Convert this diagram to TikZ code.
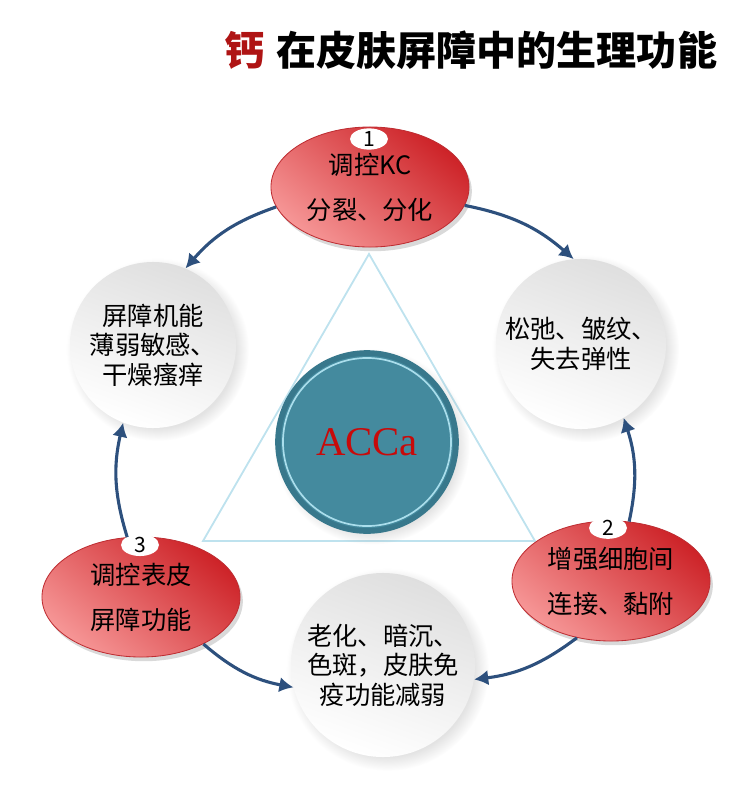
\documentclass[tikz,border=0pt]{standalone}
\usepackage{fontspec}
\setmainfont{Noto Sans CJK SC}
\newfontfamily\accafont{Liberation Serif}
\usetikzlibrary{shapes.geometric, arrows.meta, shadows, shadings}
\definecolor{TitleRed}{RGB}{175,20,20}
\definecolor{RedDark}{RGB}{205,35,40}
\definecolor{RedLight}{RGB}{246,150,150}
\definecolor{RedEdge}{RGB}{190,45,50}
\definecolor{FlowBlue}{RGB}{45,80,125}
\definecolor{TealFill}{RGB}{68,138,158}
\definecolor{TealRing}{RGB}{56,120,140}
\definecolor{TealLine}{RGB}{170,222,236}
\definecolor{TriBlue}{RGB}{190,226,238}
\definecolor{AccaRed}{RGB}{200,10,10}

\begin{document}
\begin{tikzpicture}[x=0.025cm, y=-0.025cm, >={Latex[length=10pt, width=11pt]},
    redstep/.style={ellipse, minimum width=4.95cm, minimum height=3cm, inner sep=0pt,
        draw=RedEdge, line width=0.6pt, top color=RedDark, bottom color=RedLight, shading angle=-40,
        drop shadow={opacity=0.3, shadow xshift=2pt, shadow yshift=-3pt},
        align=center, font=\fontsize{18}{32}\selectfont},
    whitestep/.style={circle, minimum size=4.25cm, inner sep=0pt,
        top color=gray!25, bottom color=white, shading angle=-20,
        circular drop shadow={opacity=0.22, shadow xshift=3pt, shadow yshift=-3pt},
        align=center, font=\fontsize{18}{21}\selectfont},
    tag/.style={ellipse, fill=white, minimum width=0.95cm, minimum height=0.45cm, inner sep=0pt,
        font=\fontsize{15}{15}\selectfont},
    flow/.style={->, FlowBlue, line width=2.2pt},
    tri/.style={TriBlue, line width=1.3pt}]
    \useasboundingbox (0,0) rectangle (730,790);
    % Title
    \node[anchor=west, font=\fontsize{28.5}{29}\selectfont\bfseries] (title) at (220,50)
        {{\color{TitleRed}钙}\hspace{8pt}在皮肤屏障中的生理功能};
    % Triangle behind
    \coordinate (triTop) at (369,254);
    \coordinate (triLeft) at (203,541);
    \coordinate (triRight) at (535,541);
    \draw[tri] (triTop) -- (triLeft) -- (triRight) -- cycle;
    % Centre
    \node[circle, minimum size=4.45cm, inner sep=0pt, fill=TealFill, draw=TealRing, line width=4pt,
        circular drop shadow={opacity=0.25, shadow xshift=3pt, shadow yshift=-3pt},
        font=\fontsize{29}{29}\accafont, text=AccaRed] (acca) at (367,442) {ACCa};
    \node[circle, minimum size=4.2cm, inner sep=0pt, draw=TealLine, line width=1.2pt] (accaline) at (acca) {};
    % Effects
    \node[whitestep, minimum size=4.15cm] (dry) at (153,345) {屏障机能\\薄弱敏感、\\干燥瘙痒};
    \node[whitestep] (lax) at (581,344) {松弛、皱纹、\\失去弹性};
    \node[whitestep, minimum size=4.6cm] (aging) at (383,665) {老化、暗沉、\\色斑，皮肤免\\疫功能减弱};
    % Functions
    \node[redstep] (kc) at (370,187) {调控KC\\分裂、分化};
    \node[redstep] (adhes) at (611,581) {增强细胞间\\连接、黏附};
    \node[redstep] (barrier) at (141,597) {调控表皮\\屏障功能};
    \node[tag] (tag1) at (369,139) {1};
    \node[tag] (tag2) at (608,528) {2};
    \node[tag] (tag3) at (140,545) {3};
    % Arrows
    \draw[flow] (kc.192) to[bend right=15] (dry.67);
    \draw[flow] (kc.349) to[bend left=15] (lax.95);
    \draw[flow] (adhes.73) to[bend right=15] (lax.300);
    \draw[flow] (adhes.239) to[bend left=15] (aging.351);
    \draw[flow] (barrier.323) to[bend right=15] (aging.194);
    \draw[flow] (barrier.103) to[bend left=15] (dry.249);
\end{tikzpicture}
\end{document}
